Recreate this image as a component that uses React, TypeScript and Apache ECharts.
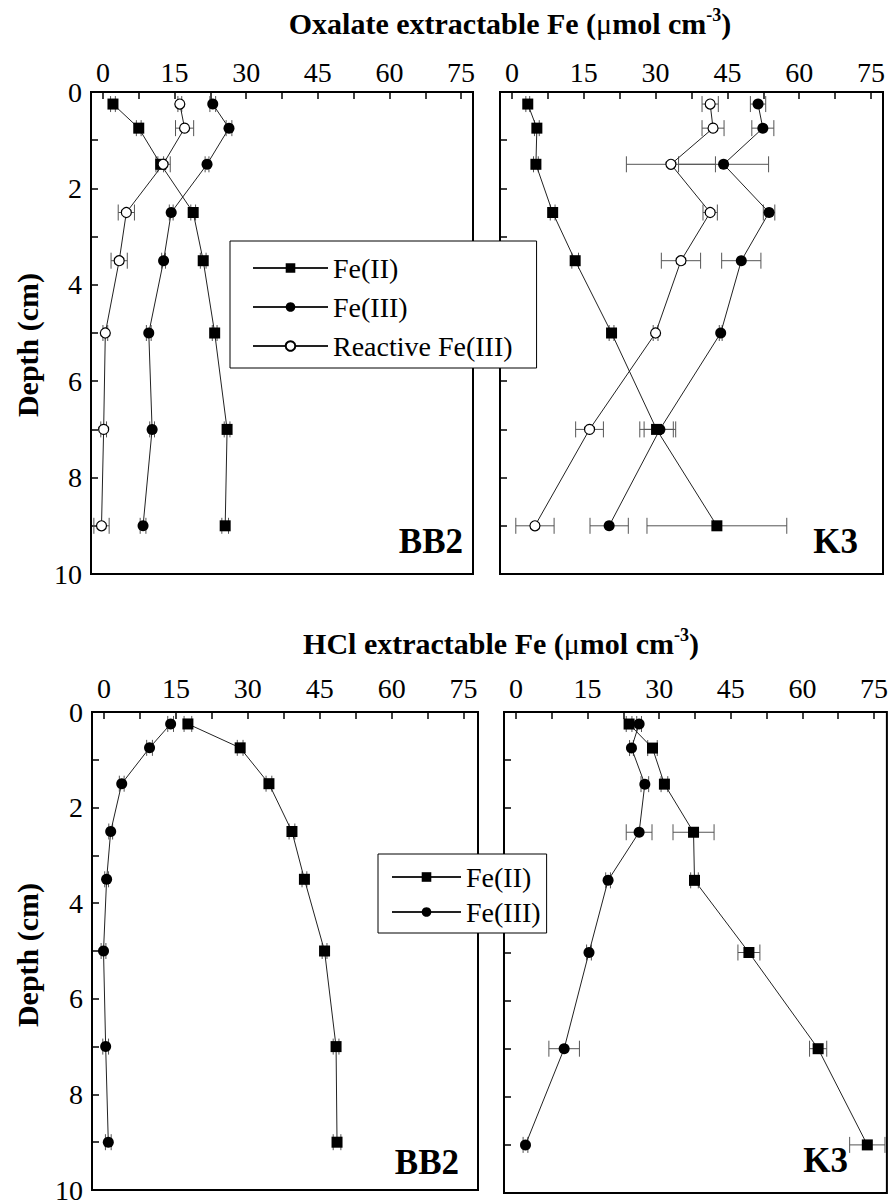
import React, { useEffect, useRef } from "react";
import * as echarts from "echarts";

// ---------- data ----------
const depths = [0.25, 0.75, 1.5, 2.5, 3.5, 5, 7, 9];
const xTickLabels = [0, 15, 30, 45, 60, 75];
const xMinorTicks = [0, 7.5, 15, 22.5, 30, 37.5, 45, 52.5, 60, 67.5, 75];
const yTickLabels = [0, 2, 4, 6, 8, 10];
const yTicks = [1, 2, 3, 4, 5, 6, 7, 8, 9];

// Oxalate extractable, BB2
const oxBB2FeII = [2.1, 7.5, 12.1, 18.9, 21.0, 23.4, 26.0, 25.6];
const oxBB2FeIIErr = [0.5, 0.5, 0.6, 0.5, 0.6, 0.5, 0.6, 0.7];
const oxBB2FeIII = [23.0, 26.4, 21.8, 14.3, 12.7, 9.6, 10.3, 8.4];
const oxBB2FeIIIErr = [0.6, 0.6, 0.4, 0.4, 0.4, 0.5, 0.5, 0.6];
const oxBB2React = [16.1, 17.1, 12.6, 4.9, 3.4, 0.5, 0.15, -0.3];
const oxBB2ReactErr = [0.4, 1.9, 1.5, 1.7, 1.7, 0.5, 0.6, 1.6];

// Oxalate extractable, K3
const oxK3FeII = [3.3, 5.2, 5.0, 8.5, 13.2, 20.8, 30.2, 42.8];
const oxK3FeIIErr = [0.4, 0.5, 0.5, 0.5, 0.7, 0.5, 3.5, 14.6];
const oxK3FeIII = [51.4, 52.4, 44.2, 53.7, 47.9, 43.6, 30.9, 20.3];
const oxK3FeIIIErr = [1.6, 2.3, 9.4, 1.2, 4.1, 0.3, 3.3, 4.0];
const oxK3React = [41.4, 42.0, 33.2, 41.4, 35.3, 30.0, 16.2, 4.8];
const oxK3ReactErr = [1.7, 2.3, 9.3, 1.5, 4.1, 0.5, 2.9, 4.0];

// HCl extractable, BB2
const hclBB2FeII = [17.5, 28.4, 34.4, 39.2, 41.8, 46.0, 48.4, 48.6];
const hclBB2FeIIErr = [0.8, 0.6, 0.6, 0.6, 0.5, 0.5, 0.6, 0.8];
const hclBB2FeIII = [13.9, 9.5, 3.7, 1.4, 0.55, -0.1, 0.35, 0.9];
const hclBB2FeIIIErr = [0.6, 0.6, 0.5, 0.4, 0.4, 0.5, 0.6, 0.6];

// HCl extractable, K3
const hclK3FeII = [23.7, 28.6, 31.1, 37.2, 37.4, 48.8, 63.3, 73.6];
const hclK3FeIIErr = [0.6, 1.0, 0.7, 4.3, 0.8, 2.3, 1.8, 3.7];
const hclK3FeIII = [25.8, 24.2, 27.0, 25.8, 19.3, 15.3, 10.1, 2.0];
const hclK3FeIIIErr = [0.5, 0.4, 0.8, 2.7, 0.5, 0.5, 3.2, 0.5];

// ---------- styling ----------
const FONT = "Liberation Serif";
const BLACK = "#000";

const grids = [
  { left: 91, top: 92, width: 382, height: 482 },
  { left: 500, top: 92, width: 383, height: 482 },
  { left: 92, top: 712, width: 386, height: 481 },
  { left: 504, top: 712, width: 383, height: 481 },
];
const xRanges = [
  [-2.5, 77.5],
  [-2.5, 77.5],
  [-2.5, 78],
  [-2.5, 77.7],
];

type Kind = "sq" | "dot" | "open";

function markerStyle(kind: Kind) {
  if (kind === "sq") return { symbol: "rect", symbolSize: 11, itemStyle: { color: BLACK } };
  if (kind === "dot") return { symbol: "circle", symbolSize: 11, itemStyle: { color: BLACK } };
  return {
    symbol: "circle",
    symbolSize: 10,
    itemStyle: { color: "#fff", borderColor: BLACK, borderWidth: 1.2 },
  };
}

function mkSeries(g: number, name: string, vals: number[], errs: number[], kind: Kind) {
  const pts = vals.map((v, i) => [v, depths[i]]);
  const errData = vals.map((v, i) => [v, depths[i], errs[i]]);
  return [
    {
      type: "custom",
      name: name + "-err",
      xAxisIndex: g,
      yAxisIndex: g,
      z: 1,
      silent: true,
      encode: { x: 0, y: 1 },
      data: errData,
      renderItem: (_p: any, api: any) => {
        const x = api.value(0);
        const y = api.value(1);
        const e = api.value(2);
        const a = api.coord([x - e, y]);
        const b = api.coord([x + e, y]);
        const h = 8;
        const st = { stroke: "#555", lineWidth: 1 };
        return {
          type: "group",
          children: [
            { type: "line", shape: { x1: a[0], y1: a[1], x2: b[0], y2: b[1] }, style: st },
            { type: "line", shape: { x1: a[0], y1: a[1] - h, x2: a[0], y2: a[1] + h }, style: st },
            { type: "line", shape: { x1: b[0], y1: b[1] - h, x2: b[0], y2: b[1] + h }, style: st },
          ],
        };
      },
    },
    {
      type: "line",
      name,
      xAxisIndex: g,
      yAxisIndex: g,
      z: 3,
      data: pts,
      lineStyle: { color: "#222", width: 1 },
      ...markerStyle(kind),
    },
  ];
}

function xAxis(g: number) {
  return {
    type: "value",
    gridIndex: g,
    position: "top",
    min: xRanges[g][0],
    max: xRanges[g][1],
    axisLine: { show: false, onZero: false },
    splitLine: { show: false },
    axisTick: {
      show: true,
      inside: true,
      length: 7,
      customValues: xMinorTicks,
      lineStyle: { color: BLACK, width: 1.5 },
    },
    axisLabel: {
      customValues: xTickLabels,
      fontSize: 28,
      fontFamily: FONT,
      color: BLACK,
      margin: g < 2 ? 6 : 10,
    },
  };
}

function yAxis(g: number) {
  const showLabel = g === 0 || g === 2;
  return {
    type: "value",
    gridIndex: g,
    inverse: true,
    min: 0,
    max: 10,
    axisLine: { show: false, onZero: false },
    splitLine: { show: false },
    axisTick: {
      show: true,
      inside: true,
      length: 7,
      customValues: yTicks,
      lineStyle: { color: BLACK, width: 1.5 },
    },
    axisLabel: {
      show: showLabel,
      customValues: yTickLabels,
      fontSize: 28,
      fontFamily: FONT,
      color: BLACK,
      margin: 9,
    },
  };
}

function titleText(x: number, y: number, main: string) {
  return {
    type: "text",
    x,
    y,
    style: {
      text: `{b|${main} (}{m|μ}{b|mol cm}{s|-3}{b|)}`,
      align: "center",
      verticalAlign: "middle",
      rich: {
        b: { fontFamily: FONT, fontSize: 30, fontWeight: "bold", fill: BLACK, lineHeight: 34 },
        m: { fontFamily: FONT, fontSize: 30, fill: BLACK, lineHeight: 34 },
        s: {
          fontFamily: FONT,
          fontSize: 18,
          fontWeight: "bold",
          fill: BLACK,
          verticalAlign: "top",
          lineHeight: 34,
          padding: [0, 0, 16, 0],
        },
      },
    },
  };
}

function panelLabel(x: number, y: number, t: string) {
  return {
    type: "text",
    x,
    y,
    z: 10,
    style: {
      text: t,
      align: "right",
      verticalAlign: "middle",
      fontFamily: FONT,
      fontSize: 35,
      fontWeight: "bold",
      fill: BLACK,
    },
  };
}

function depthLabel(y: number) {
  return {
    type: "text",
    x: 27,
    y,
    rotation: Math.PI / 2,
    style: {
      text: "Depth (cm)",
      align: "center",
      verticalAlign: "middle",
      fontFamily: FONT,
      fontSize: 30,
      fontWeight: "bold",
      fill: BLACK,
    },
  };
}

const option: any = {
  animation: false,
  backgroundColor: "#fff",
  textStyle: { fontFamily: FONT },
  grid: grids.map((g) => ({
    ...g,
    show: true,
    borderColor: BLACK,
    borderWidth: 2,
    backgroundColor: "transparent",
  })),
  xAxis: [0, 1, 2, 3].map(xAxis),
  yAxis: [0, 1, 2, 3].map(yAxis),
  legend: [
    {
      orient: "vertical",
      left: 230,
      top: 241,
      selectedMode: false,
      data: ["Fe(II)", "Fe(III)", "Reactive Fe(III)"],
      itemWidth: 75,
      itemHeight: 12,
      itemGap: 11,
      padding: [13, 24, 8, 22],
      backgroundColor: "#fff",
      borderColor: BLACK,
      borderWidth: 1,
      z: 20,
      textStyle: { fontFamily: FONT, fontSize: 28, color: BLACK, lineHeight: 28 },
    },
    {
      orient: "vertical",
      left: 378,
      top: 854,
      selectedMode: false,
      data: ["Fe(II)", "Fe(III)"],
      itemWidth: 69,
      itemHeight: 12,
      itemGap: 7,
      padding: [9, 6, 7, 13],
      backgroundColor: "#fff",
      borderColor: BLACK,
      borderWidth: 1,
      z: 20,
      textStyle: { fontFamily: FONT, fontSize: 28, color: BLACK, lineHeight: 28 },
    },
  ],
  graphic: [
    titleText(510, 23, "Oxalate extractable Fe"),
    titleText(501, 643, "HCl extractable Fe"),
    depthLabel(345),
    depthLabel(955),
    panelLabel(463, 541, "BB2"),
    panelLabel(858, 541, "K3"),
    panelLabel(459, 1162, "BB2"),
    panelLabel(848, 1160, "K3"),
  ],
  series: [
    ...mkSeries(0, "Fe(II)", oxBB2FeII, oxBB2FeIIErr, "sq"),
    ...mkSeries(0, "Fe(III)", oxBB2FeIII, oxBB2FeIIIErr, "dot"),
    ...mkSeries(0, "Reactive Fe(III)", oxBB2React, oxBB2ReactErr, "open"),
    ...mkSeries(1, "Fe(II)", oxK3FeII, oxK3FeIIErr, "sq"),
    ...mkSeries(1, "Fe(III)", oxK3FeIII, oxK3FeIIIErr, "dot"),
    ...mkSeries(1, "Reactive Fe(III)", oxK3React, oxK3ReactErr, "open"),
    ...mkSeries(2, "Fe(II)", hclBB2FeII, hclBB2FeIIErr, "sq"),
    ...mkSeries(2, "Fe(III)", hclBB2FeIII, hclBB2FeIIIErr, "dot"),
    ...mkSeries(3, "Fe(II)", hclK3FeII, hclK3FeIIErr, "sq"),
    ...mkSeries(3, "Fe(III)", hclK3FeIII, hclK3FeIIIErr, "dot"),
  ],
};

export default function App() {
  const ref = useRef<HTMLDivElement>(null);
  useEffect(() => {
    const chart = echarts.init(ref.current!, null, { renderer: "svg" });
    chart.setOption(option);
    return () => chart.dispose();
  }, []);
  return (
    <div
      ref={ref}
      style={{ position: "absolute", left: 0, top: 0, width: 891, height: 1204, background: "#fff" }}
    />
  );
}
